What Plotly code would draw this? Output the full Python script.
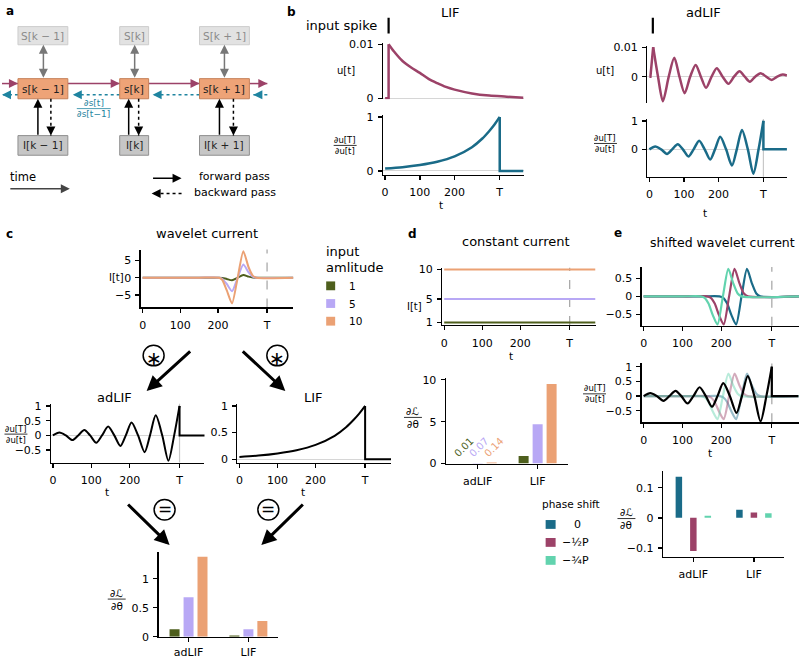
import plotly.graph_objects as go

W, H = 799, 665
FONT = 'DejaVu Sans'

# ---------------- data ----------------
T = 330
t_tickvals = [0, 100, 200, T]
t_ticktext = ['0', '100', '200', 'T']
spike_time = 10

# panel b : LIF
t_lif_u_pre = [0, 10, 10]
u_lif_pre = [0, 0, 0.0100]
t_lif_u = [10, 25, 50, 75, 100, 125, 150, 175, 200, 250, 300, 350, 398]
u_lif = [0.0100, 0.0087, 0.0069, 0.0057, 0.0047, 0.0036, 0.0028, 0.0021, 0.0016, 0.0009, 0.0005, 0.0003, 0.0001]
t_lif_g = [0, 50, 100, 150, 200, 250, 280, 300, 315, 330]
g_lif = [0.045, 0.07, 0.11, 0.17, 0.27, 0.44, 0.60, 0.74, 0.86, 1.00]
t_g_post = [330, 330, 398]
g_post = [1.0, 0.0, 0.0]

# panel b : adLIF
t_ad_u_pre = [0, 3, 11]
u_ad_pre = [0, 0, 0.0100]
t_ad_u = [11, 25, 39, 56, 72, 87, 102, 118, 134, 149, 164, 180, 195, 212, 229, 245,
          261, 276, 291, 306, 322, 338, 354, 370, 386, 398]
u_ad = [0.0100, 0.0, -0.0083, 0.0, 0.0064, 0.0, -0.0056, 0.0, 0.0040, 0.0, -0.0038, 0.0,
        0.0029, 0.0, -0.0024, 0.0, 0.0018, 0.0, -0.0017, 0.0, 0.0012, 0.0, -0.0011, 0.0,
        0.0007, 0.0004]
t_ad_g = [0, 17, 34, 51, 66, 82, 97, 113, 128, 144, 160, 176, 190, 205, 222, 239, 253,
          268, 285, 301, 316, 330]
g_ad = [0.0, 0.10, 0.0, -0.16, 0.0, 0.18, 0.0, -0.25, 0.0, 0.30, 0.0, -0.36, 0.0, 0.44,
        0.0, -0.57, 0.0, 0.68, 0.0, -0.86, 0.0, 1.00]

# panel c : wavelet current
amplitudes = ['1', '5', '10']
t_wav = [0, 150, 203, 211, 223, 237, 252, 267, 281, 292, 302, 400]
I_amp1 = [0, 0, 0, -0.06, -0.36, -0.75, 0, 0.76, 0.30, 0.06, 0, 0]
I_amp5 = [0, 0, 0, -0.3, -1.8, -3.9, 0, 3.8, 1.5, 0.3, 0, 0]
I_amp10 = [0, 0, 0, -0.6, -3.6, -7.4, 0, 7.6, 3.0, 0.6, 0, 0]

categories = ['adLIF', 'LIF']
bars_c_amp1 = [0.13, 0.02]
bars_c_amp5 = [0.68, 0.13]
bars_c_amp10 = [1.38, 0.27]

# panel d : constant current
t_const = [0, 398]
I_const1 = [1, 1]
I_const5 = [5, 5]
I_const10 = [10, 10]
bars_d_amp1 = [0.01, 0.9]
bars_d_amp5 = [0.07, 4.7]
bars_d_amp10 = [0.14, 9.5]

# panel e : shifted wavelets
phase_labels = ['0', '−½P', '−¾P']
t_w0 = [0, 150, 195, 205, 215, 226, 238, 252, 266, 279, 290, 300, 400]
w0 = [0, 0, 0, -0.04, -0.2, -0.52, -0.78, 0, 0.76, 0.35, 0.08, 0, 0]
t_whalf = [0, 110, 163, 173, 183, 194, 206, 220, 234, 247, 258, 268, 400]
whalf = [0, 0, 0, -0.04, -0.2, -0.52, -0.78, 0, 0.76, 0.35, 0.08, 0, 0]
t_w3q = [0, 100, 147, 157, 167, 178, 190, 204, 218, 231, 242, 252, 400]
w3q = [0, 0, 0, -0.04, -0.2, -0.52, -0.78, 0, 0.76, 0.35, 0.08, 0, 0]
bars_e_0 = [0.137, 0.027]
bars_e_half = [-0.11, 0.018]
bars_e_3q = [0.007, 0.015]

# ---------------- styles ----------------
C_TEAL = '#1a6b88'
C_MAROON = '#9c4268'
C_MINT = '#62d3ae'
C_GREEN = '#4e5f1d'
C_LAV = '#b8a8f5'
C_ORANGE = '#eba174'
C_ZERO = '#d6d6d6'

fig = go.Figure()
shapes, ann = [], []
layout_axes = {}
axes = {}

ax_base = dict(showline=True, linecolor='black', linewidth=1.3, ticks='outside', ticklen=4,
               tickwidth=1.3, tickcolor='black', showgrid=False, zeroline=False,
               tickfont=dict(family=FONT, size=11, color='black'), fixedrange=True)


def add_ax(key, x0, x1, y0, y1, xr, yr, xkw=None, ykw=None):
    n = len(axes) + 1
    s = '' if n == 1 else str(n)
    xa = dict(ax_base)
    xa.update(domain=[x0 / W, x1 / W], range=xr, anchor='y' + s, ticklabelstandoff=3)
    if xkw:
        xa.update(xkw)
    ya = dict(ax_base)
    ya.update(domain=[1 - y1 / H, 1 - y0 / H], range=yr, anchor='x' + s, ticklabelstandoff=2)
    if ykw:
        ya.update(ykw)
    layout_axes['xaxis' + s] = xa
    layout_axes['yaxis' + s] = ya
    axes[key] = ('x' + s, 'y' + s)


TX = dict(tickmode='array', tickvals=t_tickvals, ticktext=t_ticktext)
ZL = dict(zeroline=True, zerolinecolor=C_ZERO, zerolinewidth=1)


def yt(vals, txt):
    return dict(tickmode='array', tickvals=vals, ticktext=txt)


# axes
add_ax('bLu', 382, 523, 38.5, 96, [-6, 399], [-0.00018, 0.01027], dict(visible=False),
       dict(yt([0, 0.01], ['0', '0.01']), **ZL))
add_ax('bLg', 382, 523, 112, 173, [-6, 399], [-0.073, 1.036], TX,
       dict(yt([0, 1], ['0', '1']), **ZL))
add_ax('bAu', 647, 787, 42, 100, [-5.8, 398.4], [-0.009, 0.01033], dict(visible=False),
       dict(yt([0, 0.01], ['0', '0.01']), **ZL))
add_ax('bAg', 647, 787, 116, 175, [-5.8, 398.4], [-0.966, 1.069], TX,
       dict(yt([0, 1], ['0', '1']), **ZL))
add_ax('cW', 139, 292, 249, 308, [-5.3, 399.5], [-8.56, 8.1], TX,
       yt([-5, 0, 5], ['−5', '0', '5']))
add_ax('cA', 49, 203, 406, 466, [-5.2, 395], [-0.923, 1.077], TX,
       dict(yt([-0.5, 0, 0.5, 1], ['−0.5', '0', '0.5', '1']), **ZL))
add_ax('cL', 236, 390, 406, 466, [-5.2, 398], [-0.061, 1.042], TX,
       dict(yt([0, 0.5, 1], ['0', '0.5', '1']), **ZL))
add_ax('cB', 157, 277, 556.7, 643.3, [-0.5, 1.5], [0, 1.468],
       dict(type='category', ticklabelstandoff=1),
       yt([0, 0.5, 1], ['0', '0.5', '1']))
add_ax('dT', 441.4, 595, 267.7, 326, [-5, 398], [0.55, 10.27], TX,
       yt([1, 5, 10], ['1', '5', '10']))
add_ax('dB', 445, 567, 380, 467, [-0.53, 1.5], [0, 10.2], dict(type='category'),
       yt([0, 5, 10], ['0', '5', '10']))
add_ax('eT', 641.4, 799, 266.7, 326.7, [-4.9, 400], [-0.815, 0.815], TX,
       yt([-0.5, 0, 0.5], ['−0.5', '0', '0.5']))
add_ax('eM', 641.4, 799, 365, 425, [-4.9, 400], [-0.89, 1.11], TX,
       yt([-0.5, 0, 0.5, 1], ['−0.5', '0', '0.5', '1']))
add_ax('eB', 662.7, 783.5, 475, 561.7, [-0.5, 1.49], [-0.1288, 0.1546], dict(type='category'),
       yt([-0.1, 0, 0.1], ['−0.1', '0', '0.1']))


def line(key, t, v, color, width=2.2, shape='spline', smoothing=0.8, opacity=1.0):
    fig.add_trace(go.Scatter(x=t, y=v, mode='lines', opacity=opacity,
                             line=dict(color=color, width=width, shape=shape, smoothing=smoothing),
                             xaxis=axes[key][0], yaxis=axes[key][1], hoverinfo='skip'))


def bars(key, vals, color, offset, width):
    fig.add_trace(go.Bar(x=categories, y=vals, marker=dict(color=color, line=dict(width=0)),
                         offset=offset, width=width, xaxis=axes[key][0], yaxis=axes[key][1],
                         hoverinfo='skip'))


def vline(key, color, dash='solid', width=1.2):
    shapes.append(dict(type='line', xref=axes[key][0], yref=axes[key][1] + ' domain',
                       x0=T, x1=T, y0=0, y1=1, layer='below',
                       line=dict(color=color, width=width, dash=dash)))


def text(x, y, s, size=11, color='black', xanchor='center', yanchor='middle', angle=0):
    ann.append(dict(x=x / W, y=1 - y / H, xref='paper', yref='paper', text=s, showarrow=False,
                    xanchor=xanchor, yanchor=yanchor, textangle=angle,
                    font=dict(family=FONT, size=size, color=color)))


def seg(x0, y0, x1, y1, color='black', width=1.5, dash='solid'):
    shapes.append(dict(type='line', xref='paper', yref='paper', x0=x0 / W, y0=1 - y0 / H,
                       x1=x1 / W, y1=1 - y1 / H, line=dict(color=color, width=width, dash=dash)))


def rect(x0, y0, x1, y1, fill, edge, lw=1):
    shapes.append(dict(type='rect', xref='paper', yref='paper', x0=x0 / W, y0=1 - y1 / H,
                       x1=x1 / W, y1=1 - y0 / H, fillcolor=fill, line=dict(color=edge, width=lw)))


def circle(cx, cy, r):
    shapes.append(dict(type='circle', xref='paper', yref='paper', x0=(cx - r) / W, x1=(cx + r) / W,
                       y0=1 - (cy + r) / H, y1=1 - (cy - r) / H, line=dict(color='black', width=1.5)))


def arrow(x0, y0, x1, y1, color='black', width=1.5, head=2, size=1.0, side='end'):
    ann.append(dict(x=x1 / W, y=1 - y1 / H, xref='paper', yref='paper', ax=x0 - x1, ay=y0 - y1,
                    axref='pixel', ayref='pixel', showarrow=True, arrowhead=head, arrowsize=size,
                    arrowwidth=width, arrowcolor=color, arrowside=side, text='',
                    standoff=0, startstandoff=0))


def dotted_arrow(x0, y0, x1, y1, color='black', width=1.5, size=1.0):
    seg(x0, y0, x1, y1, color, width, 'dot')
    dx, dy = x1 - x0, y1 - y0
    L = (dx * dx + dy * dy) ** 0.5
    arrow(x1 - 6 * dx / L, y1 - 6 * dy / L, x1, y1, color, width, 2, size)


def frac(cx, cy, num, den, size=8, w=22, color='black', gap=5.5):
    text(cx, cy - gap, num, size, color)
    text(cx, cy + gap + 0.1, den, size, color)
    seg(cx - w / 2, cy, cx + w / 2, cy, color, 0.8)


# ---------------- panel a (diagram) ----------------
text(2, 6, '<b>a</b>', 12, xanchor='left')
PUR, TEA = C_MAROON, '#1f84a0'
cols = [(16, 66), (118, 147), (198, 248)]
for (a, b) in [(0, 16), (66, 118), (147, 198), (248, 266)]:
    seg(a, 80, b, 80, PUR, 1.5)
for (a, b) in [(266, 252), (198, 151), (118, 71), (16, 0)]:
    seg(a, 91.5, b, 91.5, TEA, 1.5, 'dot')
labS = ['S[k − 1]', 'S[k]', 'S[k + 1]']
lab_s = ['s[k − 1]', 's[k]', 's[k + 1]']
labI = ['I[k − 1]', 'I[k]', 'I[k + 1]']
for (a, b), l1, l2, l3 in zip(cols, labS, lab_s, labI):
    rect(a, 22, b, 40.5, '#e2e2e2', '#cdcdcd')
    rect(a, 75, b, 95.5, '#eea377', '#c58059')
    rect(a, 133, b, 153, '#c6c6c6', '#8f8f8f')
    text((a + b) / 2, 31.5, l1, 10.5, '#8a8a8a')
    text((a + b) / 2, 85.5, l2, 10.5, '#222222')
    text((a + b) / 2, 143, l3, 10.5, '#222222')
for (a, b) in [(0, 16), (66, 118), (147, 198), (248, 266)]:
    arrow(b - 8, 80, b, 80, PUR, 1.5, 2, 1.2)
for (a, b) in [(266, 252), (198, 151), (118, 71), (16, 0)]:
    arrow(b + 8, 91.5, b, 91.5, TEA, 1.5, 2, 1.2)
for xg in [41.5, 133, 223]:
    arrow(xg, 75, xg, 40.5, '#777777', 1.5, 2, 1.2, 'end+start')
for xs in [36, 127, 218]:
    arrow(xs, 133, xs, 95.5, 'black', 1.5, 2, 1.2)
for xd in [49, 137, 232]:
    dotted_arrow(xd, 95.5, xd, 133, 'black', 1.5, 1.2)
frac(92, 105.5, '∂s[t]', '∂s[t−1]', 9, 34, TEA)
text(21, 175, 'time', 11.5)
arrow(7, 187, 68, 187, '#444444', 1.5, 2, 1.2)
arrow(150, 176.5, 180, 176.5, 'black', 1.5, 2, 1.2)
text(195, 175, 'forward pass', 11, xanchor='left')
dotted_arrow(180, 192, 150, 192, 'black', 1.5, 1.2)
text(190, 191, 'backward pass', 11, xanchor='left')

# ---------------- panel b ----------------
text(284, 7, '<b>b</b>', 12, xanchor='left')
text(450, 8, 'LIF', 13)
text(703, 8, 'adLIF', 13)
text(340, 21, 'input spike', 13)
for key in ['bLu', 'bAu']:
    shapes.append(dict(type='line', xref=axes[key][0], yref='paper', x0=spike_time, x1=spike_time,
                       y0=1 - 29 / H, y1=1 - 13 / H, line=dict(color='black', width=2.2)))
line('bLu', t_lif_u_pre, u_lif_pre, C_MAROON, 2.5, 'linear')
line('bLu', t_lif_u, u_lif, C_MAROON, 2.5)
line('bLg', t_lif_g, g_lif, C_TEAL, 2.5)
line('bLg', t_g_post, g_post, C_TEAL, 2.5, 'linear')
vline('bAg', '#c8c8c8')
line('bAu', t_ad_u_pre, u_ad_pre, C_MAROON, 2.5, 'linear')
line('bAu', t_ad_u, u_ad, C_MAROON, 2.5)
line('bAg', t_ad_g, g_ad, C_TEAL, 2.5)
line('bAg', t_g_post, g_post, C_TEAL, 2.5, 'linear')
text(345, 67, 'u[t]', 10)
text(605, 67, 'u[t]', 10)
frac(344, 143, '∂u[T]', '∂u[t]', 8.5, 23)
frac(605, 141, '∂u[T]', '∂u[t]', 8.5, 23)
text(440, 204, 't', 10.5)
text(705, 212, 't', 10.5)

# ---------------- panel c ----------------
text(2, 233, '<b>c</b>', 12, xanchor='left')
text(206, 233, 'wavelet current', 13)
vline('cW', '#aaaaaa', 'dash', 1.3)
line('cW', t_wav, I_amp1, C_GREEN, 2.0, smoothing=0.6)
line('cW', t_wav, I_amp5, C_LAV, 2.0, smoothing=0.6)
line('cW', t_wav, I_amp10, C_ORANGE, 2.0, smoothing=0.6)
text(115, 278, 'I[t]', 10)
text(323, 251, 'input', 13, xanchor='left')
text(323, 267, 'amlitude', 13, xanchor='left')
for i, (lab, col) in enumerate(zip(amplitudes, [C_GREEN, C_LAV, C_ORANGE])):
    yy = 286 + 18 * i
    rect(325, yy - 4.5, 334, yy + 4.5, col, col, 0)
    text(346, yy, lab, 10.5, xanchor='left')
circle(152, 357, 10.5)
circle(276, 357, 10.5)
text(152, 359, '∗', 19)
text(276, 359, '∗', 19)
arrow(190, 352, 145, 393, 'black', 3, 2, 1.0)
arrow(240, 352, 284, 393, 'black', 3, 2, 1.0)
text(113, 400, 'adLIF', 13)
text(312, 400, 'LIF', 13)
vline('cA', '#c8c8c8')
line('cA', t_ad_g, g_ad, 'black', 2.0)
line('cA', t_g_post, g_post, 'black', 2.0, 'linear')
line('cL', t_lif_g, g_lif, 'black', 2.0)
line('cL', t_g_post, g_post, 'black', 2.0, 'linear')
frac(14, 437, '∂u[T]', '∂u[t]', 8.5, 23)
text(105, 496, 't', 10.5)
text(302, 496, 't', 10.5)
circle(163, 514, 10.5)
circle(267, 514, 10.5)
text(163, 513, '=', 17)
text(267, 513, '=', 17)
arrow(125, 508, 168, 550, 'black', 3, 2, 1.0)
arrow(303, 508, 260, 550, 'black', 3, 2, 1.0)
bw_c = 0.167
bars('cB', bars_c_amp1, C_GREEN, -0.317, bw_c)
bars('cB', bars_c_amp5, C_LAV, -0.083, bw_c)
bars('cB', bars_c_amp10, C_ORANGE, 0.150, bw_c)
frac(115, 605, '∂ℒ', '∂θ', 10.5, 18, gap=6.5)

# ---------------- panel d ----------------
text(405, 233, '<b>d</b>', 12, xanchor='left')
text(515, 241, 'constant current', 13)
vline('dT', '#aaaaaa', 'dash', 1.3)
line('dT', t_const, I_const10, C_ORANGE, 2.0, 'linear')
line('dT', t_const, I_const5, C_LAV, 2.0, 'linear')
line('dT', t_const, I_const1, C_GREEN, 2.0, 'linear')
text(414, 307, 'I[t]', 10)
text(510, 357, 't', 10.5)
bars('dB', bars_d_amp1, C_GREEN, -0.317, bw_c)
bars('dB', bars_d_amp5, C_LAV, -0.083, bw_c)
bars('dB', bars_d_amp10, C_ORANGE, 0.150, bw_c)
for v, col, xs in zip([bars_d_amp1[0], bars_d_amp5[0], bars_d_amp10[0]],
                      [C_GREEN, C_LAV, C_ORANGE], [-14, 1, 16]):
    ann.append(dict(x=0, y=1.9, xref=axes['dB'][0], yref=axes['dB'][1], xshift=xs,
                    text=f'{v:.2f}', showarrow=False, textangle=-45,
                    font=dict(family=FONT, size=10, color=col)))
frac(412, 420, '∂ℒ', '∂θ', 10.5, 18, gap=6.5)

text(570, 508, 'phase shift', 10.5)
for i, (lab, col) in enumerate(zip(phase_labels, [C_TEAL, C_MAROON, C_MINT])):
    yy = 529 + 18.3 * i
    rect(545, yy - 4.5, 555, yy + 4.5, col, col, 0)
    text(577 if i == 0 else 575, yy, lab, 11)

# ---------------- panel e ----------------
text(612, 232, '<b>e</b>', 12, xanchor='left')
text(722, 242, 'shifted wavelet current', 12.5)
vline('eT', '#aaaaaa', 'dash', 1.3)
vline('eM', '#aaaaaa', 'dash', 1.3)
line('eT', t_w0, w0, C_TEAL, 2.2, smoothing=0.7)
line('eT', t_whalf, whalf, C_MAROON, 2.2, smoothing=0.7)
line('eT', t_w3q, w3q, C_MINT, 2.2, smoothing=0.7)
line('eM', t_w0, w0, C_TEAL, 2.2, smoothing=0.7, opacity=0.45)
line('eM', t_whalf, whalf, C_MAROON, 2.2, smoothing=0.7, opacity=0.45)
line('eM', t_w3q, w3q, C_MINT, 2.2, smoothing=0.7, opacity=0.45)
line('eM', t_ad_g, g_ad, 'black', 2.2)
line('eM', t_g_post, g_post, 'black', 2.2, 'linear')
frac(594, 396, '∂u[T]', '∂u[t]', 8.5, 23)
text(710, 456, 't', 10.5)
bw_e = 0.107
bars('eB', bars_e_0, C_TEAL, -0.292, bw_e)
bars('eB', bars_e_half, C_MAROON, -0.053, bw_e)
bars('eB', bars_e_3q, C_MINT, 0.186, bw_e)
frac(626, 523, '∂ℒ', '∂θ', 10.5, 18, gap=6.5)

fig.update_layout(width=W, height=H, margin=dict(l=0, r=0, t=0, b=0),
                  paper_bgcolor='white', plot_bgcolor='rgba(0,0,0,0)', showlegend=False,
                  font=dict(family=FONT, color='black'), shapes=shapes, annotations=ann,
                  **layout_axes)
fig.write_html('out.html', config={'displayModeBar': False, 'staticPlot': True},
               post_script="document.body.style.margin='0px';")
